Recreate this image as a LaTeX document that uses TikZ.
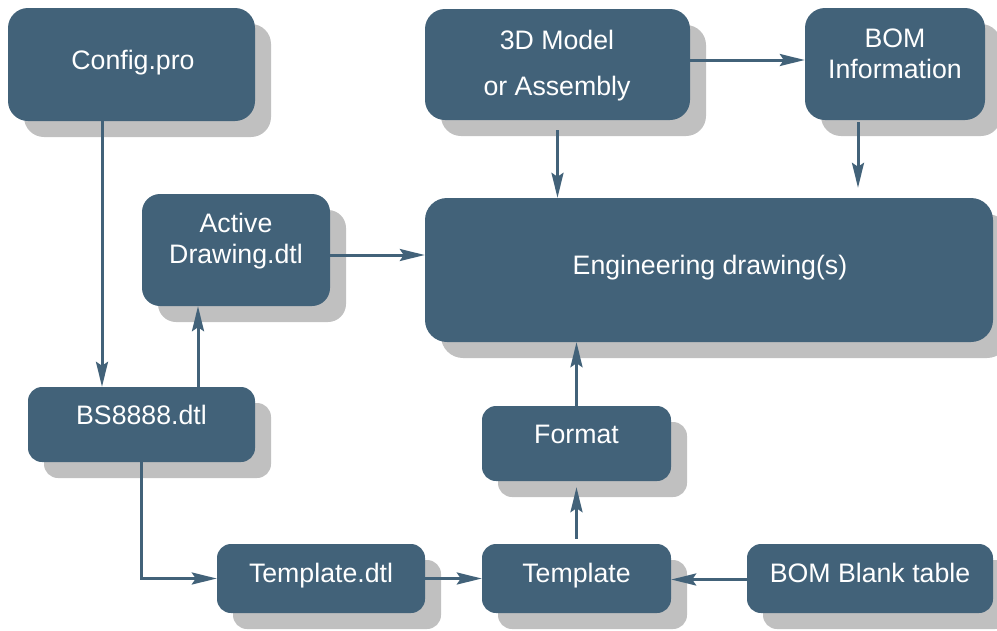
\documentclass[tikz,border=0pt]{standalone}
\usepackage{fontspec}
\setmainfont{Liberation Sans}
\usetikzlibrary{arrows.meta,shadows,calc}
\definecolor{boxblue}{RGB}{66,98,121}
\definecolor{shadowgray}{RGB}{192,192,192}
\begin{document}
\begin{tikzpicture}[x=1pt,y=-1pt,
  box/.style={fill=boxblue, draw=none, rounded corners=16pt, inner sep=0pt,
    drop shadow={shadow xshift=16pt, shadow yshift=-16pt, fill=shadowgray, opacity=1}},
  lbl/.style={text=white, font=\fontsize{26.7}{32}\selectfont, anchor=base, inner sep=0pt},
  arr/.style={draw=boxblue, line width=3pt, -{Stealth[length=25pt,width=12pt,inset=4pt]}}]
\useasboundingbox (0,0) rectangle (997,630);

% boxes
\node[box, minimum width=247pt, minimum height=113pt, rounded corners=20pt] (cfg) at (131.5,64.5) {};
\node[box, minimum width=265pt, minimum height=111pt, rounded corners=20pt] (model) at (557.5,64.5) {};
\node[box, minimum width=180pt, minimum height=112pt, rounded corners=20pt] (bom) at (895,64) {};
\node[box, minimum width=568pt, minimum height=144pt, rounded corners=22pt] (eng) at (709,270) {};
\node[box, minimum width=188pt, minimum height=112pt, rounded corners=18pt] (act) at (236,250) {};
\node[box, minimum width=227pt, minimum height=75pt, rounded corners=14pt] (bs) at (141.5,424.5) {};
\node[box, minimum width=189pt, minimum height=75pt, rounded corners=14pt] (fmt) at (576.5,443.5) {};
\node[box, minimum width=208pt, minimum height=69pt, rounded corners=14pt] (tdtl) at (321,578.5) {};
\node[box, minimum width=189pt, minimum height=69pt, rounded corners=14pt] (tpl) at (576.5,578.5) {};
\node[box, minimum width=246pt, minimum height=69pt, rounded corners=14pt] (bbt) at (870,578.5) {};

% labels
\node[lbl] (cfgt) at (133,69.5) {Config.pro};
\node[lbl] (modelt1) at (557,49.5) {3D Model};
\node[lbl] (modelt2) at (557,95.5) {or Assembly};
\node[lbl] (bomt1) at (895,47.5) {BOM};
\node[lbl] (bomt2) at (895,78.5) {Information};
\node[lbl] (engt) at (710,274.5) {Engineering drawing(s)};
\node[lbl] (actt1) at (236,232.5) {Active};
\node[lbl] (actt2) at (236,263.5) {Drawing.dtl};
\node[lbl] (bst) at (141.5,424.5) {BS8888.dtl};
\node[lbl] (fmtt) at (576.5,443.5) {Format};
\node[lbl] (tdtlt) at (321,582.5) {Template.dtl};
\node[lbl] (tplt) at (576.5,582.5) {Template};
\node[lbl] (bbtt) at (870,582.5) {BOM Blank table};

% connectors
\draw[arr] ([xshift=-29.5pt]cfg.south) -- ([xshift=-29.5pt]cfg.south |- bs.north);
\draw[arr] ([xshift=-38pt]act.south |- bs.north) -- ([xshift=-38pt]act.south);
\draw[arr] ([yshift=-5pt]act.east) -- ([yshift=-5pt]act.east -| eng.west);
\draw[arr] ([yshift=4.5pt]model.east) -- ([yshift=4.5pt]model.east -| bom.west);
\draw[arr] ([yshift=-10pt]model.south) -- (model.south |- eng.north);
\draw[arr] ([xshift=-37pt,yshift=-2pt]bom.south) -- ([xshift=-37pt,yshift=10pt]bom.south |- eng.north);
\draw[arr] (fmt.north) -- (fmt.north |- eng.south);
\draw[arr] ([yshift=5pt]tpl.north) -- ([yshift=-6pt]fmt.south);
\draw[arr] (bs.south) |- (tdtl.west);
\draw[arr] (tdtl.east) -- (tpl.west);
\draw[arr] ([yshift=-1pt]bbt.west) -- ([yshift=-1pt]tpl.east);
\end{tikzpicture}
\end{document}
